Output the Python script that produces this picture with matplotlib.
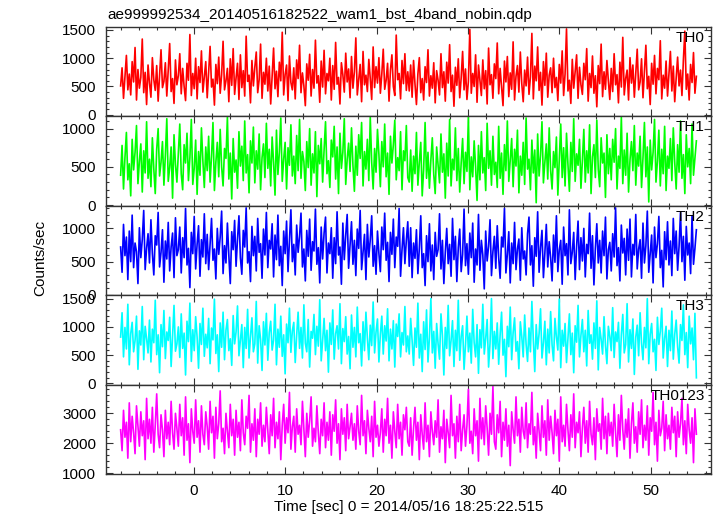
import numpy as np
import matplotlib
matplotlib.use("Agg")
import matplotlib.pyplot as plt
from matplotlib.ticker import MultipleLocator

plt.rcParams['font.family'] = ['Liberation Sans', 'DejaVu Sans']

# Time range of the light curve (sec from 2014/05/16 18:25:22.515)
t_start, t_stop = -8.0, 55.0

# Count rates (counts/sec), one list per band
th0 = [510, 830, 290, 670, 1050, 440, 720, 350, 940, 580, 1190, 260, 800, 470, 660, 1340, 390, 750, 180, 880,
       560, 310, 1010, 620, 430, 870, 240, 700, 1150, 480, 590, 920, 330, 780, 1260, 410, 640, 200, 970, 530,
       690, 1080, 370, 820, 500, 250, 910, 610, 1420, 340, 730, 460, 1000, 280, 850, 570, 1130, 400, 680, 940,
       300, 760, 1210, 490, 630, 170, 890, 550, 1020, 380, 710, 1300, 440, 600, 820, 230, 990, 520, 1170, 360,
       650, 910, 270, 1060, 480, 780, 330, 1390, 590, 700, 210, 960, 510, 840, 1110, 390, 620, 1250, 290, 750,
       540, 1000, 420, 860, 190, 680, 1180, 460, 770, 320, 930, 600, 1460, 350, 710, 880, 250, 1040, 570, 440,
       830, 280, 970, 640, 1230, 390, 740, 510, 160, 900, 610, 1070, 330, 800, 470, 1320, 560, 690, 220, 950,
       490, 1140, 370, 730, 600, 1000, 260, 870, 450, 1280, 540, 660, 190, 920, 710, 400, 1090, 580, 810, 300,
       1030, 470, 760, 1360, 350, 620, 890, 230, 1120, 530, 700, 410, 980, 640, 270, 1200, 480, 850, 560, 1010,
       380, 720, 1160, 450, 610, 910, 240, 790, 1060, 500, 340, 1410, 620, 730, 280, 960, 550, 1080, 430, 760,
       420, 880, 310, 960, 540, 180, 720, 1010, 390, 640, 260, 850, 570, 1150, 330, 690, 470, 920, 210, 780,
       610, 350, 1080, 480, 760, 240, 930, 560, 1240, 410, 700, 150, 840, 520, 990, 300, 650, 1120, 440, 810,
       270, 590, 1510, 380, 730, 500, 1060, 220, 880, 620, 340, 970, 460, 780, 190, 1180, 530, 710, 290, 900,
       640, 1270, 370, 820, 490, 160, 950, 580, 1030, 320, 740, 450, 1290, 260, 680, 870, 400, 1110, 550, 230,
       790, 510, 1020, 360, 670, 1440, 280, 860, 600, 1200, 430, 750, 170, 940, 520, 1090, 310, 700, 830, 390,
       1000, 480, 660, 250, 890, 560, 1130, 340, 720, 1520, 420, 610, 200, 980, 470, 770, 1060, 290, 840, 530,
       360, 910, 620, 1170, 240, 730, 480, 1040, 380, 690, 140, 870, 550, 1250, 320, 760, 450, 960, 600, 270,
       820, 410, 1080, 530, 710, 210, 930, 490, 1370, 350, 640, 790, 260, 1010, 560, 880, 310, 740, 1160, 440,
       580, 990, 300, 760, 1230, 460, 680, 180, 910, 540, 1050, 370, 820, 620, 1310, 280, 700, 470, 950, 330,
       740, 1120, 420, 860, 230, 650, 1020, 510, 790, 340, 970, 1480, 450, 720, 260, 890, 570, 1100, 380, 680]
th1 = [390, 780, 210, 620, 950, 330, 540, 120, 860, 460, 690, 1040, 280, 570, 800, 170, 710, 420, 1090, 350,
       600, 240, 880, 470, 150, 730, 1000, 380, 560, 830, 260, 650, 1130, 310, 490, 760, 90, 920, 530, 300,
       680, 1060, 410, 200, 790, 550, 940, 320, 620, 1120, 270, 480, 850, 140, 700, 390, 1010, 580, 230, 760,
       450, 900, 300, 640, 1080, 190, 560, 820, 370, 990, 500, 250, 740, 610, 1150, 340, 680, 80, 870, 430,
       590, 220, 960, 510, 770, 320, 1100, 420, 660, 160, 840, 550, 1020, 290, 710, 470, 930, 200, 620, 800,
       360, 1070, 480, 730, 250, 890, 560, 130, 980, 400, 690, 1140, 310, 600, 820, 210, 750, 520, 1050, 380,
       640, 280, 910, 450, 1120, 350, 700, 570, 190, 830, 490, 1000, 260, 670, 420, 960, 110, 780, 540, 870,
       300, 720, 1090, 410, 580, 230, 850, 630, 1030, 340, 760, 150, 940, 480, 690, 1130, 270, 600, 810, 440,
       1010, 520, 180, 770, 390, 920, 610, 1080, 250, 700, 470, 860, 320, 1150, 560, 210, 740, 430, 990, 660,
       240, 830, 500, 1060, 370, 680, 140, 900, 550, 790, 1110, 330, 620, 450, 960, 200, 710, 580, 1040, 360,
       300, 720, 180, 640, 410, 950, 260, 560, 820, 120, 470, 1080, 350, 690, 220, 590, 880, 400, 150, 760,
       520, 290, 930, 430, 670, 90, 810, 380, 1120, 250, 600, 460, 1010, 320, 740, 170, 550, 870, 280, 690,
       440, 1150, 200, 630, 370, 840, 500, 60, 780, 330, 960, 420, 620, 190, 1070, 480, 710, 260, 900, 400,
       560, 230, 1030, 350, 680, 140, 790, 450, 1100, 310, 590, 870, 240, 730, 510, 980, 160, 640, 390, 820,
       270, 1140, 470, 600, 200, 850, 420, 720, 30, 930, 380, 650, 1090, 290, 560, 800, 340, 1010, 450, 210,
       700, 490, 890, 130, 610, 1060, 360, 750, 250, 940, 530, 180, 820, 440, 1130, 310, 670, 520, 860, 220,
       580, 990, 300, 710, 420, 1050, 150, 630, 790, 360, 1110, 470, 240, 880, 550, 680, 100, 920, 410, 740,
       330, 860, 560, 1000, 210, 640, 480, 1150, 280, 720, 390, 940, 170, 590, 830, 450, 1040, 260, 680, 510,
       900, 230, 620, 1080, 370, 760, 40, 850, 460, 690, 1120, 300, 570, 980, 250, 730, 410, 1030, 190, 640,
       480, 870, 320, 1010, 560, 210, 790, 430, 1100, 350, 660, 150, 920, 500, 740, 280, 1060, 390, 620, 840]
th2 = [720, 340, 1060, 590, 870, 230, 960, 500, 1200, 410, 780, 650, 170, 1010, 560, 830, 1270, 380, 700, 920,
       480, 1130, 620, 300, 890, 750, 1240, 420, 640, 980, 190, 810, 540, 1090, 360, 720, 930, 260, 1160, 590,
       680, 1020, 330, 860, 560, 1300, 450, 700, 110, 940, 620, 1180, 390, 760, 1040, 280, 830, 570, 1220, 470,
       910, 380, 760, 1150, 520, 690, 240, 1000, 610, 870, 1260, 320, 740, 480, 1080, 590, 170, 950, 680, 1120,
       430, 840, 1190, 560, 310, 970, 720, 1310, 480, 650, 200, 1030, 590, 880, 360, 1150, 640, 770, 250, 990,
       600, 1240, 410, 820, 690, 1070, 270, 900, 530, 1200, 440, 730, 140, 960, 620, 1110, 350, 810, 1280, 500,
       760, 300, 1050, 640, 880, 1230, 420, 690, 210, 970, 580, 1140, 370, 800, 660, 1290, 460, 710, 180, 1020,
       540, 930, 1170, 330, 780, 620, 1010, 250, 860, 470, 1250, 600, 720, 160, 1080, 530, 900, 1210, 400, 750,
       1100, 460, 820, 290, 990, 700, 1270, 380, 640, 910, 230, 1060, 570, 830, 1190, 430, 740, 310, 960, 620,
       350, 1020, 680, 1230, 520, 790, 200, 940, 610, 1140, 410, 870, 730, 1300, 280, 680, 1010, 470, 820, 1100,
       430, 1010, 260, 780, 550, 980, 320, 700, 1190, 410, 620, 140, 890, 500, 1070, 360, 750, 230, 940, 580,
       680, 1220, 390, 820, 170, 640, 1000, 470, 760, 280, 1150, 530, 880, 200, 710, 990, 350, 610, 1290, 440,
       770, 310, 930, 560, 1080, 190, 690, 450, 1210, 370, 820, 600, 90, 960, 510, 730, 1130, 290, 650, 880,
       400, 1040, 560, 250, 870, 720, 1300, 330, 610, 950, 180, 780, 470, 1090, 380, 690, 840, 220, 1010, 540,
       660, 300, 920, 1170, 450, 740, 130, 860, 580, 1250, 340, 710, 970, 260, 630, 1060, 420, 800, 560, 210,
       900, 490, 1190, 350, 680, 820, 160, 1020, 590, 770, 300, 1280, 470, 640, 940, 230, 730, 1110, 380, 860,
       510, 1000, 270, 760, 620, 1230, 400, 890, 150, 700, 1070, 480, 820, 330, 960, 590, 1170, 240, 680, 790,
       360, 920, 570, 1310, 440, 710, 210, 1050, 630, 850, 300, 990, 520, 1140, 270, 760, 600, 1210, 390, 690,
       830, 250, 1080, 480, 740, 1260, 340, 620, 900, 180, 1020, 560, 770, 1180, 410, 670, 120, 950, 530, 1100,
       450, 810, 290, 1150, 620, 960, 370, 730, 1240, 500, 880, 220, 1030, 600, 780, 320, 1190, 460, 700, 980]
th3 = [820, 1250, 470, 990, 610, 1400, 330, 880, 1080, 560, 760, 1190, 250, 930, 680, 1360, 420, 1010, 790, 540,
       1120, 380, 960, 720, 1470, 510, 860, 190, 1040, 650, 1290, 440, 910, 760, 1170, 300, 840, 1380, 570, 700,
       1000, 460, 1230, 620, 890, 150, 1100, 740, 1420, 390, 950, 580, 1180, 820, 270, 1060, 690, 1330, 480, 870,
       630, 1150, 350, 980, 770, 1490, 530, 860, 210, 1070, 640, 1260, 420, 940, 1130, 580, 790, 320, 1200, 700,
       910, 1370, 490, 760, 1040, 280, 990, 620, 1310, 450, 830, 1160, 560, 700, 1450, 360, 1020, 780, 230, 1090,
       680, 1240, 410, 900, 1100, 590, 770, 1400, 330, 960, 640, 1190, 480, 860, 170, 1050, 720, 1330, 550, 930,
       1080, 370, 850, 1260, 620, 990, 450, 1390, 710, 560, 1130, 290, 920, 800, 1220, 510, 1010, 660, 1480, 400,
       760, 1150, 580, 940, 200, 1070, 690, 1300, 430, 880, 1020, 610, 1410, 350, 970, 740, 1180, 520, 830, 260,
       1210, 640, 990, 470, 1350, 720, 880, 310, 1090, 580, 1260, 800, 420, 1030, 670, 1440, 540, 910, 1140, 380,
       870, 1190, 520, 1020, 750, 1320, 400, 960, 610, 1110, 290, 1050, 830, 1230, 470, 900, 680, 1360, 560, 840,
       520, 1150, 760, 320, 980, 640, 1420, 450, 870, 210, 1090, 600, 1300, 380, 810, 1500, 540, 920, 270, 1060,
       700, 430, 1230, 850, 150, 990, 620, 1380, 490, 760, 1110, 300, 940, 580, 1470, 410, 830, 1020, 250, 680,
       1190, 560, 890, 360, 1310, 720, 470, 1040, 180, 950, 630, 1400, 520, 800, 1130, 290, 710, 1500, 440, 920,
       610, 1070, 340, 860, 1260, 500, 780, 120, 1010, 650, 1350, 420, 900, 1160, 570, 740, 260, 1090, 830, 470,
       1210, 690, 390, 980, 560, 1450, 770, 210, 1040, 610, 880, 1320, 450, 720, 1100, 330, 960, 540, 1270, 680,
       400, 1150, 820, 590, 1490, 280, 940, 660, 1060, 370, 800, 1230, 510, 890, 190, 1020, 730, 1380, 470, 850,
       1130, 560, 940, 310, 1290, 710, 860, 430, 1070, 620, 1460, 240, 990, 780, 520, 1180, 670, 350, 1010, 830,
       580, 1340, 460, 910, 740, 1080, 270, 860, 1220, 540, 690, 1410, 380, 950, 620, 1140, 160, 820, 1030, 490,
       1250, 710, 420, 990, 630, 1500, 350, 870, 1060, 560, 780, 230, 1170, 690, 920, 1330, 450, 800, 1010, 300,
       940, 580, 1280, 430, 870, 1120, 650, 360, 1040, 760, 1390, 510, 900, 280, 1190, 700, 980, 420, 1240, 100]
th0123 = [2450, 1750, 3100, 2200, 2700, 1500, 3350, 2050, 2900, 2350, 1650, 3250, 2550, 1900, 3050, 2250, 2750, 1450, 3500, 2150,
          2800, 2000, 3200, 1700, 2600, 3650, 2300, 1850, 2950, 2450, 1550, 3100, 2150, 2700, 1950, 3400, 2350, 1800, 3000, 2500,
          1900, 3300, 2250, 2850, 1600, 3550, 2100, 2650, 1350, 3150, 2400, 2000, 3450, 2200, 2750, 1700, 3250, 2300, 1950, 3050,
          2550, 1800, 3400, 2350, 2900, 1500, 3200, 2150, 2650, 3750, 2050, 2500, 1650, 3000, 2400, 1850, 3300, 2250, 2800, 1600,
          3100, 2200, 2700, 1750, 3450, 2350, 1950, 2900, 2500, 3600, 1700, 2650, 2100, 3150, 1550, 2800, 2300, 3350, 1900, 2600,
          2050, 3200, 2450, 1650, 2950, 2250, 3500, 1850, 2700, 2150, 3050, 1450, 2600, 3300, 2000, 2850, 2350, 3700, 1800, 2550,
          2900, 1700, 3150, 2300, 2600, 1950, 3400, 2450, 1550, 3000, 2200, 2750, 3550, 1900, 2500, 2050, 3250, 2350, 1650, 2800,
          2250, 3350, 1850, 2700, 2100, 3050, 1600, 2950, 2400, 3450, 2000, 2650, 1450, 3150, 2300, 2850, 1750, 3300, 2150, 2550,
          3000, 2100, 2650, 1800, 3250, 2400, 1950, 3600, 2250, 2750, 1650, 3100, 2500, 2050, 2900, 1550, 3400, 2200, 2600, 1900,
          2350, 3150, 1700, 2800, 2250, 3500, 2000, 2600, 1500, 3050, 2400, 1850, 3300, 2150, 2700, 1600, 2950, 2450, 3200, 2050,
          1900, 2850, 1600, 2500, 3200, 2100, 2700, 1450, 2950, 2300, 1800, 3350, 2050, 2600, 1550, 3050, 2400, 1950, 2750, 2200,
          3450, 1700, 2550, 2150, 3100, 1350, 2800, 2350, 1850, 3600, 2250, 2650, 1500, 2900, 2050, 3300, 1750, 2450, 2950, 1900,
          2600, 3800, 2000, 2400, 1650, 3150, 2250, 2750, 1400, 3500, 2150, 2850, 1950, 3250, 2500, 1600, 3000, 2300, 3900, 2050,
          1800, 2950, 2350, 3400, 1550, 2700, 2100, 3150, 1900, 2600, 1250, 3050, 2450, 2000, 3550, 2250, 2800, 1700, 3200, 2400,
          2150, 3350, 1850, 2650, 2300, 3700, 1950, 2550, 1500, 3000, 2400, 1750, 3250, 2200, 2750, 1600, 3450, 2100, 2900, 2350,
          1650, 3100, 2250, 2800, 1400, 3550, 2050, 2600, 1900, 3300, 2450, 1750, 2950, 2200, 3650, 1850, 2700, 2350, 3050, 1550,
          2500, 3200, 2000, 2750, 1700, 3400, 2300, 1950, 2850, 1450, 3150, 2400, 2650, 1800, 3500, 2150, 2900, 1650, 3000, 2250,
          2700, 1900, 3300, 2350, 1550, 2950, 2100, 3600, 2450, 1800, 2800, 2200, 3150, 1500, 2650, 3350, 2000, 2550, 1700, 3050,
          2300, 3450, 1850, 2600, 2100, 3250, 1600, 2850, 2400, 3700, 1950, 2700, 1400, 3100, 2250, 2500, 3400, 1750, 2950, 2150,
          2600, 1800, 3200, 2350, 2900, 1550, 3050, 2200, 2650, 3500, 1950, 2750, 1650, 3300, 2450, 2000, 2850, 1350, 3150, 2300]

bands = ['TH0', 'TH1', 'TH2', 'TH3', 'TH0123']
series = [th0, th1, th2, th3, th0123]
colors = ['#ff0000', '#00ff00', '#0000ff', '#00ffff', '#ff00ff']
ylims = [(-30, 1553), (-10, 1160), (-5, 1340), (-20, 1560), (970, 3960)]
major = [500, 500, 500, 500, 1000]
minor = [100, 100, 100, 100, 200]

W, H = 717, 516
fig = plt.figure(figsize=(W / 100, H / 100), dpi=100)

left_px, right_px = 106, 711
top_px, bot_px = 27, 474
ph = (bot_px - top_px) / len(bands)

axes = []
for i, (name, vals, c) in enumerate(zip(bands, series, colors)):
    y_top = top_px + i * ph
    ax = fig.add_axes([left_px / W, 1 - (y_top + ph) / H,
                       (right_px - left_px) / W, ph / H])
    t = np.linspace(t_start, t_stop, len(vals))
    ax.plot(t, vals, color=c, lw=1.2)
    ax.set_xlim(-9.6, 56.6)
    ax.set_ylim(*ylims[i])
    ax.xaxis.set_major_locator(MultipleLocator(10))
    ax.xaxis.set_minor_locator(MultipleLocator(2))
    ax.yaxis.set_major_locator(MultipleLocator(major[i]))
    ax.yaxis.set_minor_locator(MultipleLocator(minor[i]))
    ax.tick_params(which='both', direction='in', top=True, right=True,
                   labelsize=11, width=0.8, color='#333333')
    ax.tick_params(which='major', length=5, pad=7)
    ax.tick_params(which='minor', length=2.5)
    for s in ax.spines.values():
        s.set_linewidth(1.0)
        s.set_color('#333333')
    if i < len(bands) - 1:
        ax.tick_params(labelbottom=False)
    ax.text(0.99, 0.955, name, transform=ax.transAxes, ha='right', va='top',
            fontsize=11)
    axes.append(ax)

axes[-1].set_xlabel('Time [sec] 0 = 2014/05/16 18:25:22.515', fontsize=11, labelpad=2)
fig.text(40 / W, 1 - 258 / H, 'Counts/sec', rotation=90, ha='center', va='center', fontsize=11)
fig.text(107 / W, 1 - 19 / H, 'ae999992534_20140516182522_wam1_bst_4band_nobin.qdp',
         ha='left', va='baseline', fontsize=11)

fig.savefig('out.png', dpi=100)
